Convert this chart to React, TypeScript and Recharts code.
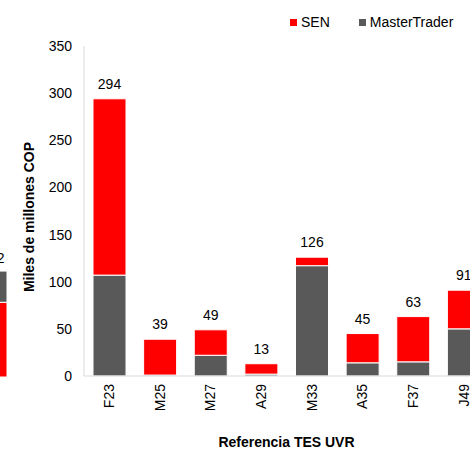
import { BarChart, Bar, XAxis, YAxis, LabelList } from "recharts";

const categories = ["F23", "M25", "M27", "A29", "M33", "A35", "F37", "J49"];
const masterTrader = [107, 1, 22, 2, 117, 14, 15, 50];
const sen = [187, 38, 27, 11, 9, 31, 48, 41];
const totals = [294, 39, 49, 13, 126, 45, 63, 91];
const yTicks = [0, 50, 100, 150, 200, 250, 300, 350];

// neighbouring chart, only its right edge shows in the picture
const leftSen = [79];
const leftMasterTrader = [33];
const leftTotals = [112];

const RED = "#FF0000";
const GRAY = "#595959";
const AXIS = "#D9D9D9";
const FONT = "'Liberation Sans', Arial, sans-serif";

const legendItems = [
  { key: "SEN", color: RED },
  { key: "MasterTrader", color: GRAY },
];

const data = categories.map((c, i) => ({
  name: c,
  masterTrader: masterTrader[i],
  sen: sen[i],
  total: totals[i],
}));

const leftData = leftSen.map((v, i) => ({
  name: "",
  sen: v,
  masterTrader: leftMasterTrader[i],
  total: leftTotals[i],
}));

function XTick({ x, y, payload }: any) {
  return (
    <text
      x={x}
      y={y}
      transform={`rotate(-90, ${x}, ${y})`}
      textAnchor="end"
      dy="0.35em"
      fontSize={14}
      fill="#000"
      fontFamily={FONT}
    >
      {payload.value}
    </text>
  );
}

function XTitle({ viewBox }: any) {
  return (
    <text
      x={viewBox.x + viewBox.width / 2}
      y={447}
      textAnchor="middle"
      fontSize={14}
      fontWeight={700}
      fill="#000"
      fontFamily={FONT}
    >
      Referencia TES UVR
    </text>
  );
}

function YTitle({ viewBox }: any) {
  const x = viewBox.x - 21;
  const y = viewBox.y + viewBox.height / 2 + 6;
  return (
    <text
      x={x}
      y={y}
      transform={`rotate(-90, ${x}, ${y})`}
      textAnchor="middle"
      dy="0.35em"
      fontSize={14}
      fontWeight={700}
      fill="#000"
      fontFamily={FONT}
    >
      Miles de millones COP
    </text>
  );
}

export default function App() {
  return (
    <div
      style={{
        position: "fixed",
        left: 0,
        top: 0,
        width: 470,
        height: 452,
        overflow: "hidden",
        background: "#fff",
        fontFamily: FONT,
      }}
    >
      {/* cropped neighbour chart */}
      <div style={{ position: "absolute", left: -45, top: 0 }}>
        <BarChart
          width={60}
          height={452}
          data={leftData}
          margin={{ top: 46, right: 0, bottom: 75, left: 10 }}
        >
          <XAxis
            dataKey="name"
            tick={false}
            tickLine={false}
            height={0}
            axisLine={{ stroke: AXIS }}
          />
          <YAxis hide domain={[0, 350]} />
          <Bar
            dataKey="sen"
            stackId="a"
            fill={RED}
            stroke="#fff"
            strokeWidth={1}
            barSize={33}
            isAnimationActive={false}
          />
          <Bar
            dataKey="masterTrader"
            stackId="a"
            fill={GRAY}
            stroke="#fff"
            strokeWidth={1}
            barSize={33}
            isAnimationActive={false}
          >
            <LabelList
              dataKey="total"
              position="top"
              offset={8}
              dx={3}
              fontSize={14}
              fill="#000"
              fontFamily={FONT}
            />
          </Bar>
        </BarChart>
      </div>

      <div style={{ position: "absolute", left: 0, top: 0 }}>
        <BarChart
          width={500}
          height={452}
          data={data}
          margin={{ top: 46, right: 11, bottom: 0, left: 50 }}
        >
          <XAxis
            dataKey="name"
            height={76}
            tickLine={false}
            tickMargin={2}
            axisLine={{ stroke: AXIS }}
            tick={<XTick />}
            interval={0}
            label={(props: any) => <XTitle {...props} />}
          />
          <YAxis
            width={34}
            domain={[0, 350]}
            ticks={yTicks}
            tickLine={false}
            tickMargin={6}
            axisLine={{ stroke: AXIS }}
            tick={{ fontSize: 14, fill: "#000", fontFamily: FONT }}
            label={(props: any) => <YTitle {...props} />}
          />
          <Bar
            dataKey="masterTrader"
            name="MasterTrader"
            stackId="a"
            fill={GRAY}
            stroke="#fff"
            strokeWidth={1}
            barSize={33}
            isAnimationActive={false}
          />
          <Bar
            dataKey="sen"
            name="SEN"
            stackId="a"
            fill={RED}
            stroke="#fff"
            strokeWidth={1}
            barSize={33}
            isAnimationActive={false}
          >
            <LabelList
              dataKey="total"
              position="top"
              offset={10}
              fontSize={14}
              fill="#000"
              fontFamily={FONT}
            />
          </Bar>
        </BarChart>
      </div>

      {/* Legend */}
      <div
        style={{
          position: "absolute",
          left: 290,
          top: 13,
          display: "flex",
          alignItems: "center",
          fontSize: 14,
          color: "#000",
          lineHeight: "18px",
        }}
      >
        {legendItems.map((item, i) => (
          <div
            key={item.key}
            style={{
              display: "flex",
              alignItems: "center",
              marginRight: i === 0 ? 29 : 0,
            }}
          >
            <span
              style={{
                width: 7,
                height: 7,
                background: item.color,
                marginRight: 4,
                display: "inline-block",
              }}
            />
            <span>{item.key}</span>
          </div>
        ))}
      </div>
    </div>
  );
}
